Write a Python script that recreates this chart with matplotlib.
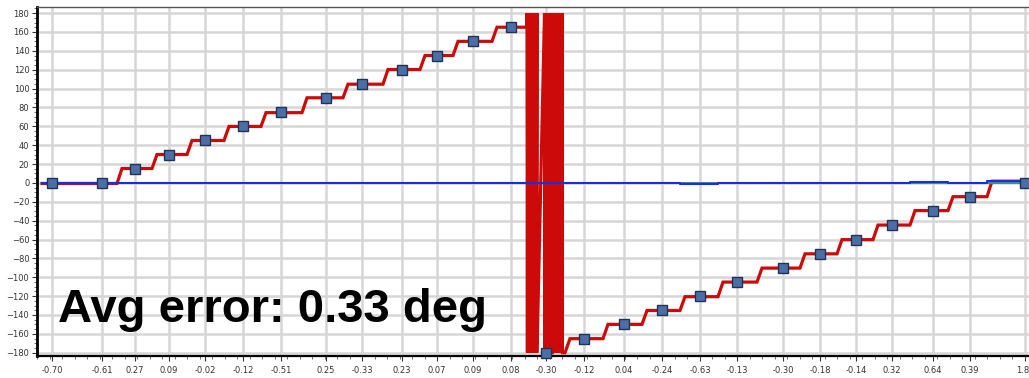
import numpy as np
import matplotlib
matplotlib.use("Agg")
import matplotlib.pyplot as plt
from matplotlib.ticker import FixedLocator, MultipleLocator

# Check points: time (s), commanded angle (deg) and measured error (deg)
check_time = [1.5, 6.5, 9.8, 13.2, 16.8, 20.6, 24.4, 28.9, 32.5, 36.5, 40.0, 43.6, 47.4,
              50.9, 54.7, 58.7, 62.5, 66.3, 70.0, 74.6, 78.3, 81.9, 85.5, 89.6, 93.3, 98.8]
check_angle = [0, 0, 15, 30, 45, 60, 75, 90, 105, 120, 135, 150, 165,
               -180, -165, -150, -135, -120, -105, -90, -75, -60, -45, -30, -15, 0]
check_error = [-0.70, -0.61, 0.27, 0.09, -0.02, -0.12, -0.51, 0.25, -0.33, 0.23, 0.07, 0.09, 0.08,
               -0.30, -0.12, 0.04, -0.24, -0.63, -0.13, -0.30, -0.18, -0.14, 0.32, 0.64, 0.39, 1.80]
error_labels = ["-0.70", "-0.61", "0.27", "0.09", "-0.02", "-0.12", "-0.51", "0.25", "-0.33",
                "0.23", "0.07", "0.09", "0.08", "-0.30", "-0.12", "0.04", "-0.24", "-0.63",
                "-0.13", "-0.30", "-0.18", "-0.14", "0.32", "0.64", "0.39", "1.80"]

# Times (s) at which the measured angle settles onto each new plateau,
# and the check point that is read on that plateau
plateau_start = [0.5, 8.0, 11.5, 15.0, 18.7, 22.4, 26.5, 30.6, 34.6, 38.3, 41.6, 45.5,
                 52.8, 56.6, 60.5, 64.3, 68.1, 72.0, 76.3, 80.0, 83.6, 87.3, 91.1, 95.0]
plateau_check = [1, 2, 3, 4, 5, 6, 7, 8, 9, 10, 11, 12,
                 14, 15, 16, 17, 18, 19, 20, 21, 22, 23, 24, 25]

# Around +/-180 deg the reading flips between the two ends of the range
wrap_start = 49.0
wrap_bursts = [(49.0, 49.1), (49.35, 50.0), (50.75, 51.55), (51.7, 52.55)]
t_end = 100.3

# ---- measured angle trace -------------------------------------------------
t_meas, v_meas = [], []
levels = [check_angle[i] + check_error[i] for i in plateau_check]
cur = levels[0]
t_meas.append(plateau_start[0]); v_meas.append(cur)
for k in range(1, len(plateau_start)):
    if plateau_start[k] > wrap_start and plateau_start[k - 1] < wrap_start:
        t_meas.append(wrap_start); v_meas.append(cur)
        for a, b in wrap_bursts:
            ts = np.arange(a, b, 0.04)
            for j, tt in enumerate(ts):
                t_meas.append(tt); v_meas.append(180 if j % 2 == 0 else -180)
            t_meas.append(b); v_meas.append(-180)
        cur = -180
    t_meas.append(plateau_start[k]); v_meas.append(cur)
    cur = levels[k]
    t_meas.append(plateau_start[k] + 0.5); v_meas.append(cur)
t_meas.append(t_end); v_meas.append(cur)

# ---- error trace (step per plateau) -----------------------------------------
t_err, v_err = [], []
for k, s in enumerate(plateau_start):
    e = check_error[plateau_check[k]]
    e_end = plateau_start[k + 1] if k + 1 < len(plateau_start) else t_end
    t_err += [s, e_end]
    v_err += [e, e]

# second near-zero channel
t_aux = [25.0, t_end]
v_aux = [-0.6, -0.6]

# ---- figure -------------------------------------------------------------------
W, H = 1029, 378
fig = plt.figure(figsize=(W / 100, H / 100), dpi=100)
ax = fig.add_axes([37 / W, 22 / H, 1003 / W, 349 / H])

ax.set_xlim(0, t_end)
ax.set_ylim(-183.5, 186.5)
ax.set_axisbelow(True)

ax.plot(t_meas, v_meas, color="#cc0a0a", lw=2.3, zorder=2, solid_joinstyle="miter")
ax.plot(t_aux, v_aux, color="#3a8f8a", lw=1.4, zorder=3)
ax.plot(t_err, v_err, color="#1a2ee0", lw=1.5, zorder=3.5)
ax.plot(check_time, check_angle, ls="none", marker="s", markersize=7.5,
        markerfacecolor="#4a6fa8", markeredgecolor="#22324f", markeredgewidth=1.0,
        zorder=5, clip_on=False)

# axes, ticks and grid
ax.xaxis.set_major_locator(FixedLocator(check_time))
ax.set_xticklabels(error_labels)
ax.xaxis.set_minor_locator(MultipleLocator(1.25))
ax.yaxis.set_major_locator(MultipleLocator(20))
ax.yaxis.set_minor_locator(MultipleLocator(5))
ax.grid(True, which="major", color="#d6d6d6", lw=1.8)
ax.tick_params(axis="both", which="major", direction="out", length=3.5, width=0.8,
               labelsize=6, labelcolor="#333333", color="#333333")
ax.tick_params(axis="both", which="minor", direction="out", length=2, width=0.6,
               color="#555555")
ax.tick_params(axis="x", pad=4)
ax.tick_params(axis="y", pad=2)

ax.spines["left"].set_linewidth(2.0)
ax.spines["left"].set_color("black")
ax.spines["bottom"].set_linewidth(1.6)
ax.spines["bottom"].set_color("black")
ax.spines["top"].set_linewidth(1.0)
ax.spines["top"].set_color("#555555")
ax.spines["right"].set_visible(False)

fig.text(58 / W, (H - 322) / H, "Avg error: 0.33 deg", fontsize=34, fontweight="bold",
         family="Liberation Sans", color="black", va="baseline", ha="left")

fig.savefig("out.png", dpi=100, facecolor="white")
